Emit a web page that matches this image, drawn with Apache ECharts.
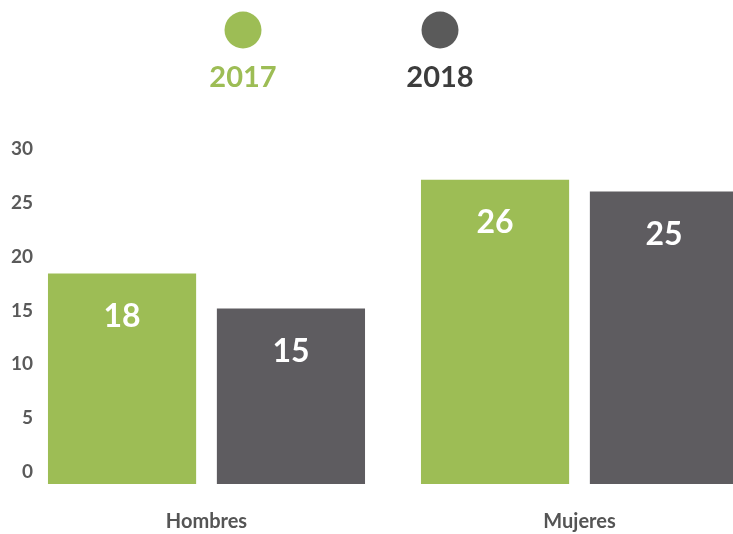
<!DOCTYPE html>
<html><head><meta charset="utf-8">
<script src="https://cdn.jsdelivr.net/npm/echarts@6/dist/echarts.min.js"></script>
<style>html,body{margin:0;padding:0;background:#fff}#c{width:733px;height:534px}</style>
</head><body><div id="c"></div>
<script>
const categories = ['Hombres', 'Mujeres'];
const seriesNames = ['2017', '2018'];
const values2017 = [18, 26];
const values2018 = [15, 25];
const yTicks = [0, 5, 10, 15, 20, 25, 30];
const barColors = ['#9DBD55', '#5E5C60'];
const legendIconColors = ['#9DBD55', '#5A5A5A'];
const legendTextColors = ['#9DBD55', '#3C3C3C'];
const legendCenters = [243, 440];

const font = 'Lato, "Open Sans", sans-serif';
const chart = echarts.init(document.getElementById('c'));
const seriesData = [values2017, values2018];

chart.setOption({
  animation: false,
  legend: seriesNames.map((n, i) => ({
    data: [n], left: legendCenters[i] - 18.5, top: 11.5, icon: 'circle', padding: 0,
    itemWidth: 37, itemHeight: 37, itemGap: 0, formatter: () => '',
    selectedMode: false, itemStyle: {color: legendIconColors[i]}, textStyle: {fontSize: 1}
  })),
  graphic: seriesNames.map((n, i) => ({
    type: 'text', x: legendCenters[i], y: 78,
    style: {text: n, fill: legendTextColors[i], font: 'bold 29px ' + font, textAlign: 'center', textVerticalAlign: 'middle'}
  })),
  grid: {left: 20, top: 133, width: 746, height: 351, containLabel: false, outerBoundsMode: 'none'},
  xAxis: {
    type: 'category', data: categories,
    axisLine: {show: false}, axisTick: {show: false},
    axisLabel: {margin: 28, fontSize: 20, fontWeight: 'bold', color: '#555', fontFamily: font}
  },
  yAxis: [
    {type: 'value', min: 0, max: 30, show: false, splitLine: {show: false}},
    {type: 'value', min: -1.11, max: 31.48, offset: -13, position: 'left',
     axisLine: {show: false}, axisTick: {show: false}, splitLine: {show: false},
     axisLabel: {customValues: yTicks, margin: 0, fontSize: 19, fontWeight: 'bold', color: '#5A5A5A', fontFamily: font}}
  ],
  series: seriesNames.map((n, i) => ({
    name: n, type: 'bar', yAxisIndex: 0, data: seriesData[i],
    barCategoryGap: '15%', barGap: '14%',
    itemStyle: {color: barColors[i]},
    label: {show: true, position: 'insideTop', distance: 27, color: '#fff', fontSize: 32, lineHeight: 32, fontWeight: 'bold', fontFamily: font}
  }))
});
</script></body></html>
